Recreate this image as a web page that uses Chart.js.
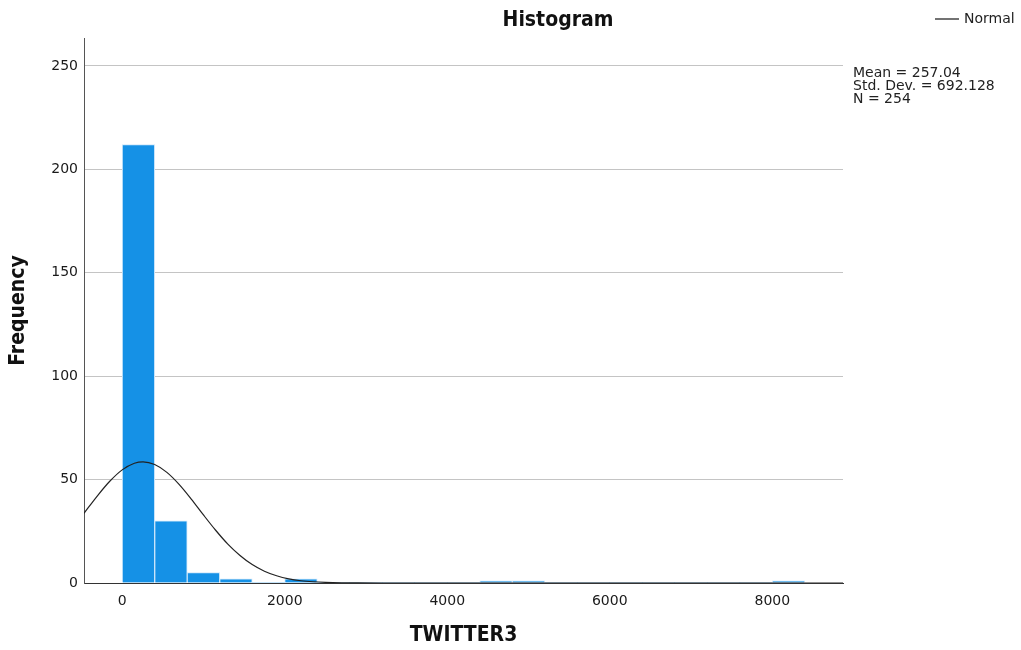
<!DOCTYPE html>
<html>
<head>
<meta charset="utf-8">
<script src="https://cdn.jsdelivr.net/npm/chart.js@4"></script>
<style>
html,body{margin:0;padding:0;background:#fff;}
#wrap{width:1021px;height:650px;position:relative;}
</style>
</head>
<body>
<div id="wrap"><canvas id="c" width="1021" height="650"></canvas></div>
<script>
// Histogram bins (bin width 400), centers and counts
const binCenters = [200,600,1000,1400,1800,2200,2600,3000,3400,3800,4200,4600,5000,5400,5800,6200,6600,7000,7400,7800,8200];
const frequencies = [212,30,5,2,0,2,0,0,0,0,0,1,1,0,0,0,0,0,0,0,1];
// Normal curve points
const normalX = [-470,-300,-150,0,150,257,400,550,700,850,1000,1150,1300,1450,1600,1750,1900,2050,2200,2350,2500,2700,2900,3200,8870];
const normalY = [33.7,42.4,49.3,54.7,57.9,58.6,57.3,53.5,47.7,40.6,32.9,25.5,18.8,13.3,8.9,5.7,3.5,2.0,1.1,0.6,0.3,0.1,0.04,0,0];
const xTicks = [0,2000,4000,6000,8000];
const yTicks = [0,50,100,150,200,250];
const statLines = ['Mean = 257.04','Std. Dev. = 692.128','N = 254'];

const barData = binCenters.map((x,i)=>({x:x,y:frequencies[i]}));
const lineData = normalX.map((x,i)=>({x:x,y:normalY[i]}));

const textPlugin = {
  id:'texts',
  afterDraw(chart){
    const ctx = chart.ctx;
    const a = chart.chartArea;
    ctx.save();
    ctx.fillStyle = '#111';
    const bold = 'bold 21px "DejaVu Sans Condensed", "DejaVu Sans", sans-serif';
    ctx.font = bold;
    ctx.textAlign = 'center'; ctx.textBaseline = 'middle';
    ctx.fillText('Histogram', 558, 21);
    ctx.fillText('TWITTER3', (a.left+a.right)/2, 636);
    ctx.save();
    ctx.translate(19,(a.top+a.bottom)/2);
    ctx.rotate(-Math.PI/2);
    ctx.fillText('Frequency',0,0);
    ctx.restore();
    // legend
    ctx.strokeStyle = '#444'; ctx.lineWidth = 1.5;
    ctx.beginPath(); ctx.moveTo(935,19); ctx.lineTo(959,19); ctx.stroke();
    ctx.font = '14px "DejaVu Sans"';
    ctx.textAlign = 'left';
    ctx.fillStyle = '#222';
    ctx.fillText('Normal', 964, 19);
    // stats
    ctx.font = '14px "DejaVu Sans"';
    statLines.forEach((s,i)=>ctx.fillText(s, 853, 73 + i*13));
    ctx.restore();
  }
};

new Chart(document.getElementById('c'), {
  type:'bar',
  data:{
    datasets:[
      {
        type:'line', data:lineData, borderColor:'#222', borderWidth:1.2,
        pointRadius:0, fill:false, cubicInterpolationMode:'monotone', order:1
      },
      {
        type:'bar', data:barData, backgroundColor:'#1591e6',
        borderColor:'#cde6fa',
        borderWidth: c => (c.raw && c.raw.y>0) ? 1 : 0,
        barPercentage:1, categoryPercentage:1, order:2
      }
    ]
  },
  options:{
    responsive:false, animation:false,
    layout:{padding:{top:38,right:178,left:0,bottom:0}},
    plugins:{legend:{display:false}, title:{display:false}, tooltip:{enabled:false}},
    scales:{
      x:{
        type:'linear', min:-470, max:8870, offset:false,
        grid:{display:false, drawTicks:false},
        border:{display:true,color:'#333',width:1},
        afterBuildTicks: s => { s.ticks = xTicks.map(v=>({value:v})); },
        afterFit: s => { s.height = 67; },
        ticks:{font:{family:'DejaVu Sans',size:14},color:'#1a1a1a',padding:10,maxRotation:0,
          callback:v=>String(v)}
      },
      y:{
        min:0, max:263.5,
        grid:{color:'#c4c4c4',lineWidth:1,drawTicks:false},
        border:{display:true,color:'#555',width:1},
        afterBuildTicks: s => { s.ticks = yTicks.map(v=>({value:v})); },
        afterFit: s => { s.width = 84; },
        ticks:{font:{family:'DejaVu Sans',size:14},color:'#1a1a1a',padding:6,
          callback:v=>String(v)}
      }
    }
  },
  plugins:[textPlugin]
});
</script>
</body>
</html>
